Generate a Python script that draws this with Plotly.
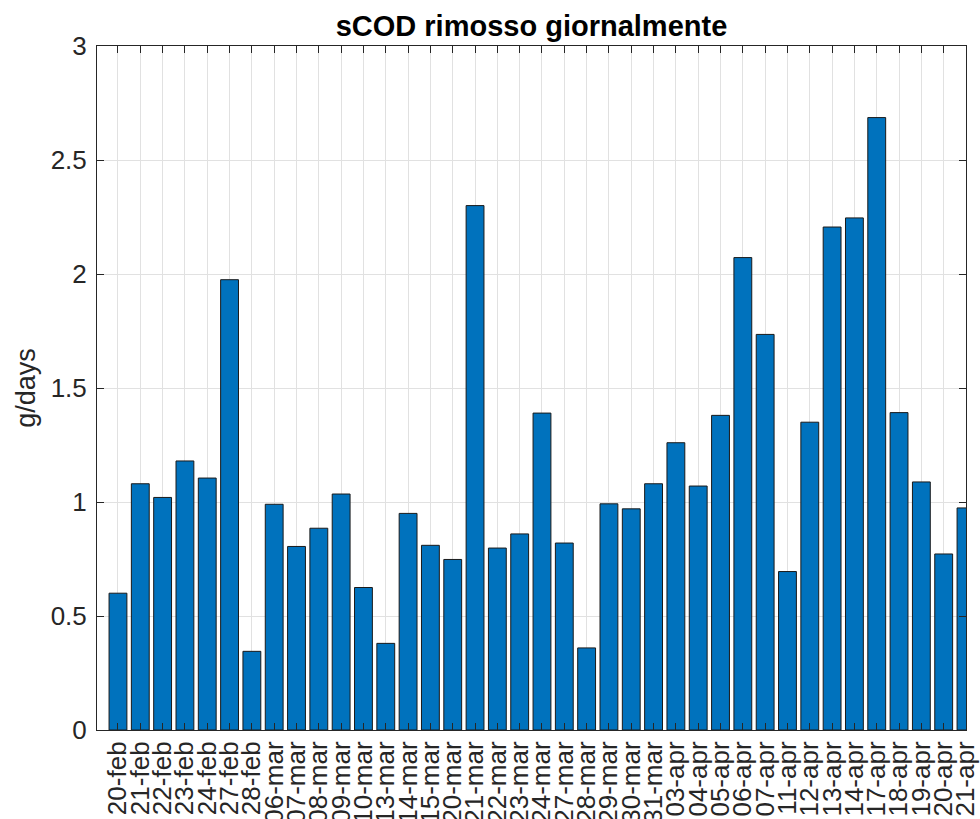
import plotly.graph_objects as go

# dates (categories) and daily removed sCOD
days = ['20-feb', '21-feb', '22-feb', '23-feb', '24-feb', '27-feb', '28-feb',
        '06-mar', '07-mar', '08-mar', '09-mar', '10-mar', '13-mar', '14-mar',
        '15-mar', '20-mar', '21-mar', '22-mar', '23-mar', '24-mar', '27-mar',
        '28-mar', '29-mar', '30-mar', '31-mar', '03-apr', '04-apr', '05-apr',
        '06-apr', '07-apr', '11-apr', '12-apr', '13-apr', '14-apr', '17-apr',
        '18-apr', '19-apr', '20-apr', '21-apr']
scod = [0.60, 1.08, 1.02, 1.18, 1.105, 1.975, 0.345,
        0.99, 0.805, 0.885, 1.035, 0.625, 0.38, 0.95,
        0.81, 0.748, 2.30, 0.798, 0.86, 1.39, 0.82,
        0.36, 0.992, 0.97, 1.08, 1.26, 1.07, 1.38,
        2.072, 1.735, 0.695, 1.35, 2.206, 2.246, 2.686,
        1.392, 1.088, 0.772, 0.974]
y_ticks = [0, 0.5, 1, 1.5, 2, 2.5, 3]

font_family = 'Liberation Sans, Arial, sans-serif'
axis_col = '#262626'
grid_col = '#e1e1e1'

fig = go.Figure()
fig.add_trace(go.Bar(
    x=days,
    y=scod,
    width=0.8,
    marker=dict(color='#0072BD', line=dict(color='#1a1a1a', width=1)),
    cliponaxis=False,
))

fig.update_layout(
    width=980,
    height=819,
    margin=dict(l=97, r=14, t=46, b=89),
    paper_bgcolor='white',
    plot_bgcolor='white',
    showlegend=False,
    font=dict(family=font_family, size=26, color=axis_col),
    title=dict(
        text='<b>sCOD rimosso giornalmente</b>',
        font=dict(family=font_family, size=29, color='black'),
        x=(97 + 966) / 2 / 980, xanchor='center',
        y=0.969, yref='container', yanchor='middle',
    ),
    xaxis=dict(
        type='category',
        range=[-0.94, 38],
        automargin=False,
        tickmode='array',
        tickvals=days,
        ticktext=days,
        tickangle=-90,
        ticks='inside',
        ticklen=7,
        tickcolor=axis_col,
        showline=True,
        linecolor=axis_col,
        linewidth=1,
        mirror='ticks',
        showgrid=True,
        gridcolor=grid_col,
        gridwidth=1,
        tickfont=dict(size=26),
    ),
    yaxis=dict(
        range=[0, 3],
        automargin=False,
        tickmode='array',
        tickvals=y_ticks,
        ticktext=['0', '0.5', '1', '1.5', '2', '2.5', '3'],
        ticks='inside',
        ticklen=7,
        tickcolor=axis_col,
        showline=True,
        linecolor=axis_col,
        linewidth=1,
        mirror='ticks',
        showgrid=True,
        gridcolor=grid_col,
        gridwidth=1,
        zeroline=False,
        tickfont=dict(size=26),
        ticklabelstandoff=4,
        title=dict(text='g/days', font=dict(size=27), standoff=7),
    ),
)

# drop the default page margin so the figure sits at the window corner
fig.write_html("out.html", config={'displayModeBar': False},
               post_script="document.body.style.margin='0';")
